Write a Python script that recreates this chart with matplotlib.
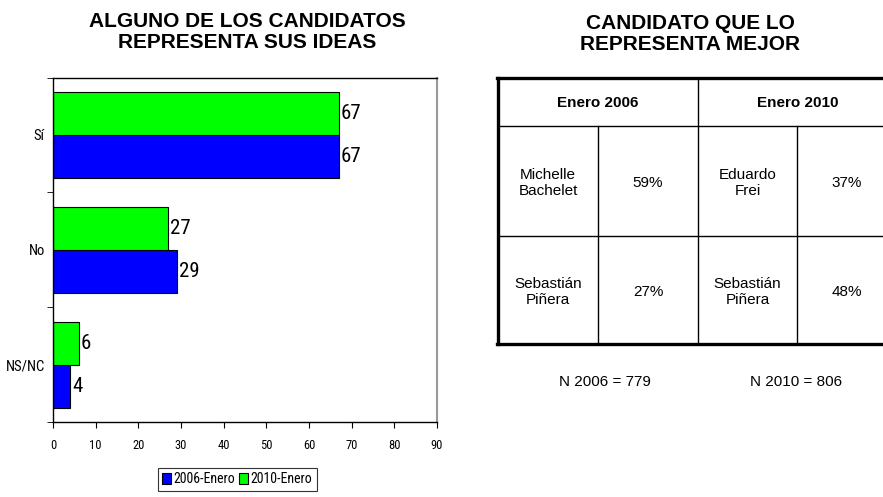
import matplotlib
matplotlib.use("Agg")
import matplotlib.pyplot as plt
from matplotlib.lines import Line2D
from matplotlib.patches import Patch
import numpy as np

categories = ["NS/NC", "No", "Sí"]
serie_2006 = [4, 29, 67]
serie_2010 = [6, 27, 67]
series_names = ["2006-Enero", "2010-Enero"]
x_ticks = [0, 10, 20, 30, 40, 50, 60, 70, 80, 90]

table_headers = ["Enero 2006", "Enero 2010"]
table_rows = [["Michelle\nBachelet", "59%", "Eduardo\nFrei", "37%"],
              ["Sebastián\nPiñera", "27%", "Sebastián\nPiñera", "48%"]]
n_labels = ["N 2006 = 779", "N 2010 = 806"]

NARROW = ["Roboto Condensed", "DejaVu Sans"]
ARIAL = ["Liberation Sans", "DejaVu Sans"]

W, H = 883, 497
fig = plt.figure(figsize=(W/100, H/100), dpi=100)

def fx(px):
    return px / W
def fy(py):
    return 1 - py / H

# ---------- bar chart ----------
ax = fig.add_axes([fx(53), fy(422), fx(437) - fx(53), fy(77.5) - fy(422)])
y = np.arange(len(categories))
h = 0.375
blue = "#0000FF"
green = "#00FF00"
b1 = ax.barh(y - h/2, serie_2006, height=h, color=blue, edgecolor="black", linewidth=0.8)
b2 = ax.barh(y + h/2, serie_2010, height=h, color=green, edgecolor="black", linewidth=0.8)
for bars, vals in ((b1, serie_2006), (b2, serie_2010)):
    for bar, v in zip(bars, vals):
        ax.annotate(str(v), (bar.get_width(), bar.get_y() + bar.get_height()/2),
                    xytext=(1.5, 0), textcoords="offset points", ha="left", va="center",
                    fontsize=15, family=NARROW)
ax.set_xlim(0, 90)
ax.set_ylim(-0.5, 2.5)
ax.set_xticks(x_ticks)
ax.set_xticklabels([str(t) for t in x_ticks], family=NARROW, fontsize=9)
ax.set_yticks(y)
ax.set_yticklabels(categories, family=NARROW, fontsize=10.5)
ax.tick_params(axis="y", length=0, pad=6)
ax.set_yticks([-0.5, 0.5, 1.5, 2.5], minor=True)
ax.tick_params(axis="y", which="minor", length=4, direction="out")
ax.tick_params(axis="x", length=4, direction="out", pad=8)
for s in ("left", "bottom", "top"):
    ax.spines[s].set_color("black")
    ax.spines[s].set_linewidth(1.0)
ax.spines["right"].set_color("#999999")
ax.spines["right"].set_linewidth(1.5)

handles = [Patch(facecolor=blue, edgecolor="black", linewidth=0.8),
           Patch(facecolor=green, edgecolor="black", linewidth=0.8)]
leg = fig.legend(handles, series_names, loc="upper left",
                 bbox_to_anchor=(fx(157.5), fy(467.5)), ncol=2, frameon=True,
                 prop={"family": NARROW, "size": 10}, handlelength=0.6, handleheight=0.9,
                 handletextpad=0.2, columnspacing=0.3, borderpad=0.35, fancybox=False,
                 borderaxespad=0)
leg.get_frame().set_edgecolor("black")
leg.get_frame().set_linewidth(0.8)

# ---------- titles ----------
fig.text(fx(247), fy(32), "ALGUNO DE LOS CANDIDATOS\nREPRESENTA SUS IDEAS", ha="center",
         va="center", fontsize=15, fontweight="bold", family=ARIAL, linespacing=1.15)
fig.text(fx(690), fy(34), "CANDIDATO QUE LO\nREPRESENTA MEJOR", ha="center",
         va="center", fontsize=15, fontweight="bold", family=ARIAL, linespacing=1.15)

# ---------- table ----------
col_x = [498, 598, 698, 797, 897]
row_y = [78, 125.5, 236, 344]
text_y = [183, 292]
lc = "black"
def hline(yp, x0, x1, lw):
    fig.add_artist(Line2D([fx(x0), fx(x1)], [fy(yp), fy(yp)], color=lc, lw=lw))
def vline(xp, y0, y1, lw):
    fig.add_artist(Line2D([fx(xp), fx(xp)], [fy(y0), fy(y1)], color=lc, lw=lw))

hline(row_y[0], col_x[0] - 1, col_x[-1], 2.4)
hline(row_y[1], col_x[0], col_x[-1], 1.0)
hline(row_y[2], col_x[0], col_x[-1], 1.0)
hline(row_y[3], col_x[0] - 1, col_x[-1], 2.4)
vline(col_x[0], row_y[0], row_y[3], 2.4)
vline(col_x[2], row_y[0], row_y[3], 1.0)
vline(col_x[1], row_y[1], row_y[3], 1.0)
vline(col_x[3], row_y[1], row_y[3], 1.0)

for i, hd in enumerate(table_headers):
    cx = (col_x[2*i] + col_x[2*i + 2]) / 2
    fig.text(fx(cx), fy(103), hd, ha="center", va="center", fontsize=11,
             fontweight="bold", family=ARIAL)
for r, row in enumerate(table_rows):
    for c, txt in enumerate(row):
        cx = (col_x[c] + col_x[c+1]) / 2
        fig.text(fx(cx), fy(text_y[r]), txt, ha="center", va="center", fontsize=11,
                 family=ARIAL, linespacing=1.15)

fig.text(fx(605), fy(382), n_labels[0], ha="center", va="center", fontsize=11, family=ARIAL)
fig.text(fx(796), fy(382), n_labels[1], ha="center", va="center", fontsize=11, family=ARIAL)

fig.savefig("out.png", dpi=100)
